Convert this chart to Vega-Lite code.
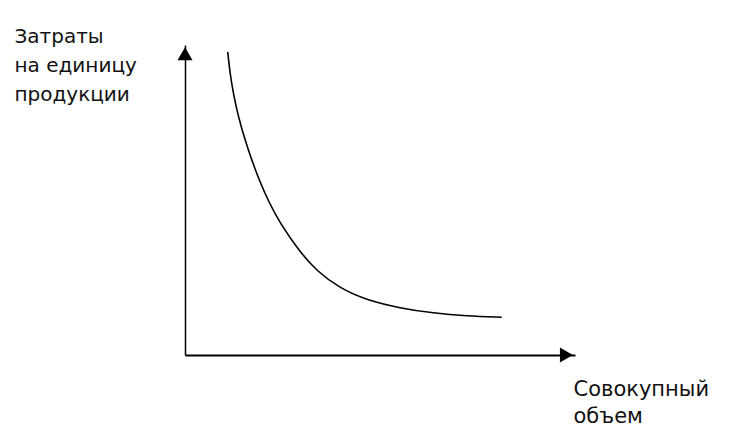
{
  "$schema": "https://vega.github.io/schema/vega-lite/v6.json",
  "autosize": {"type": "none"},
  "width": 390,
  "height": 310,
  "padding": {"left": 185, "top": 45, "right": 178, "bottom": 83},
  "background": "white",
  "config": {"view": {"stroke": null}},
  "datasets": {
    "curve": [
      {"q": 10.95, "c": 97.8},
      {"q": 11.54, "c": 90.9},
      {"q": 12.38, "c": 84.4},
      {"q": 13.67, "c": 76.9},
      {"q": 15.38, "c": 69.4},
      {"q": 17.10, "c": 62.9},
      {"q": 19.23, "c": 55.8},
      {"q": 21.36, "c": 49.7},
      {"q": 24.36, "c": 42.5},
      {"q": 29.49, "c": 33.2},
      {"q": 33.77, "c": 27.1},
      {"q": 39.74, "c": 21.5},
      {"q": 46.59, "c": 17.7},
      {"q": 55.13, "c": 15.1},
      {"q": 63.67, "c": 13.5},
      {"q": 72.23, "c": 12.6},
      {"q": 81.21, "c": 12.2}
    ],
    "arrows": [
      {"q": 0, "c": 97.2, "dir": "triangle-up"},
      {"q": 97.8, "c": 0, "dir": "triangle-right"}
    ]
  },
  "layer": [
    {
      "data": {"name": "curve"},
      "mark": {"type": "line", "color": "black", "strokeWidth": 1.6, "interpolate": "basis", "clip": false},
      "encoding": {
        "x": {
          "field": "q", "type": "quantitative",
          "scale": {"domain": [0, 100], "nice": false, "zero": false},
          "axis": {
            "ticks": false, "labels": false, "grid": false,
            "domainColor": "black", "domainWidth": 2,
            "title": ["Совокупный", "объем"],
            "titleAnchor": "start", "titleAlign": "left", "titleBaseline": "top",
            "titleX": 388, "titleY": 23, "titleLineHeight": 27,
            "titleFont": "DejaVu Sans", "titleFontSize": 21, "titleFontWeight": "normal", "titleColor": "#111"
          }
        },
        "y": {
          "field": "c", "type": "quantitative",
          "scale": {"domain": [0, 100], "nice": false, "zero": false},
          "axis": {
            "ticks": false, "labels": false, "grid": false,
            "domainColor": "black", "domainWidth": 1.5,
            "title": ["Затраты", "на единицу", "продукции"],
            "titleAngle": 0, "titleAlign": "left", "titleBaseline": "top",
            "titleX": -171, "titleY": -19, "titleLineHeight": 29,
            "titleFont": "DejaVu Sans", "titleFontSize": 20, "titleFontWeight": "normal", "titleColor": "#111"
          }
        }
      }
    },
    {
      "data": {"name": "arrows"},
      "mark": {"type": "point", "filled": true, "color": "black", "size": 225, "opacity": 1, "clip": false},
      "encoding": {
        "x": {"field": "q", "type": "quantitative"},
        "y": {"field": "c", "type": "quantitative"},
        "shape": {"field": "dir", "type": "nominal", "scale": null, "legend": null}
      }
    }
  ]
}
